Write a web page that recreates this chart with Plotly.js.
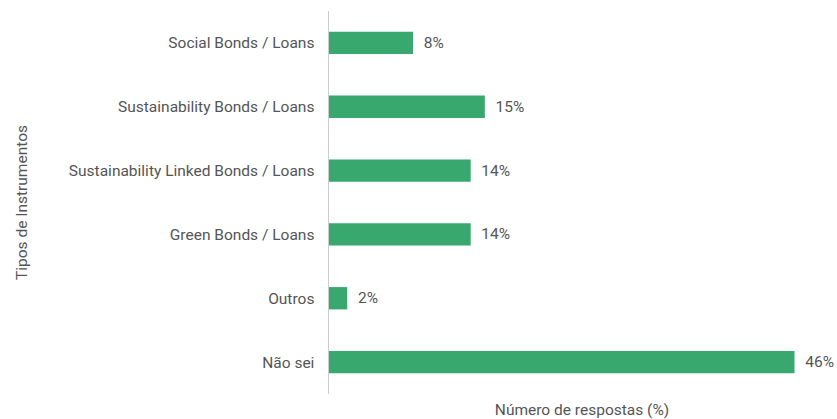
<!DOCTYPE html>
<html>
<head>
<meta charset="utf-8">
<script src="https://cdn.plot.ly/plotly-3.0.1.min.js"></script>
<style>html,body{margin:0;padding:0;background:#fff;}#chart{width:837px;height:419px;}</style>
</head>
<body>
<div id="chart"></div>
<script>
const categories = [
  "Social Bonds / Loans",
  "Sustainability Bonds / Loans",
  "Sustainability Linked Bonds / Loans",
  "Green Bonds / Loans",
  "Outros",
  "Não sei"
];
const values = [8.3, 15.4, 14.0, 14.0, 1.8, 46.0];
const labels = ["8%", "15%", "14%", "14%", "2%", "46%"];

const font = {family: "Roboto, 'Open Sans', sans-serif", size: 15.5, color: "#555555"};

Plotly.newPlot("chart", [{
  type: "bar",
  orientation: "h",
  y: categories,
  x: values,
  text: labels,
  texttemplate: "\u00a0\u00a0%{text}",
  textposition: "outside",
  cliponaxis: false,
  textfont: font,
  marker: {color: "#38a86f"},
  hoverinfo: "skip"
}], {
  width: 837, height: 419,
  margin: {l: 329, r: 2, t: 11, b: 25},
  paper_bgcolor: "#ffffff", plot_bgcolor: "#ffffff",
  bargap: 0.65,
  font: font,
  showlegend: false,
  xaxis: {
    range: [0, 50], showticklabels: false, showgrid: false, zeroline: false,
    showline: false, ticks: "",
    title: {text: "Número de respostas (%)", font: font, standoff: 10}
  },
  yaxis: {
    autorange: "reversed", showgrid: false, zeroline: false,
    showline: true, linecolor: "#cccccc", linewidth: 1.5, ticks: "",
    ticklabelstandoff: 10,
    tickfont: font,
    title: {text: "Tipos de Instrumentos", font: font, standoff: 37}
  }
}, {displayModeBar: false, staticPlot: true});
</script>
</body>
</html>
